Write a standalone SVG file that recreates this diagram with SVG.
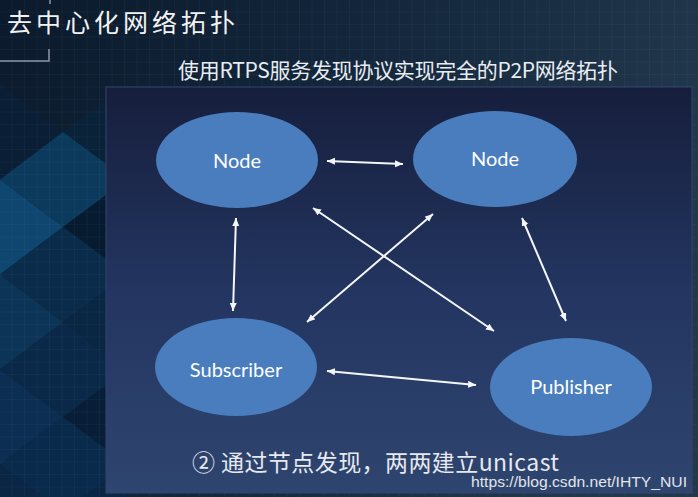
<svg xmlns="http://www.w3.org/2000/svg" width="698" height="497" viewBox="0 0 698 497">
  <defs>
    <linearGradient id="bg" x1="0" y1="0" x2="1" y2="0.3">
      <stop offset="0" stop-color="#0b1a2c"/>
      <stop offset="0.5" stop-color="#13263b"/>
      <stop offset="1" stop-color="#22384c"/>
    </linearGradient>
    <linearGradient id="panel" x1="0" y1="0" x2="0" y2="1">
      <stop offset="0" stop-color="#161e3c"/>
      <stop offset="0.5" stop-color="#233560"/>
      <stop offset="1" stop-color="#2e4570"/>
    </linearGradient>
    <pattern id="grid" width="12.5" height="12.5" patternUnits="userSpaceOnUse">
      <path d="M12.5 0V12.5M0 12.5H12.5" fill="none" stroke="#7aa6d0" stroke-width="0.8" opacity="0.13"/>
    </pattern>
    <marker id="ah" markerUnits="userSpaceOnUse" markerWidth="9" markerHeight="8" refX="8" refY="3.5" orient="auto-start-reverse">
      <path d="M0,0 L8,3.5 L0,7 z" fill="#f4f6fa"/>
    </marker>
    <style>
      .node ellipse { fill: #4a7dbd; }
      .node text { fill: #ffffff; font-family: Lato, "Open Sans", "Noto Sans", sans-serif; font-size: 20px; text-anchor: middle; }
      .conn line { stroke: #f4f6fa; stroke-width: 2; marker-start: url(#ah); marker-end: url(#ah); }
      .cjk { font-family: "Noto Sans CJK SC", "Noto Sans", sans-serif; }
    </style>
  </defs>

  <!-- background -->
  <rect x="0" y="0" width="698" height="497" fill="url(#bg)"/>
  <g id="diamonds">
    <polygon points="0,84.5 63,132 0,179.5" fill="#0a1f35"/>
    <polygon points="127,84.5 63,132 127,179.5" fill="#0a2238"/>
    <polygon points="63,132 0,179.5 63,227 127,179.5" fill="#0b3a5d"/>
    <polygon points="0,179.5 63,227 0,274.5" fill="#0e4670"/>
    <polygon points="127,179.5 63,227 127,274.5" fill="#071b30"/>
    <polygon points="63,227 0,274.5 63,322 127,274.5" fill="#0a2c4a"/>
    <polygon points="0,274.5 63,322 0,369.5" fill="#0b3456"/>
    <polygon points="127,274.5 63,322 127,369.5" fill="#092642"/>
    <polygon points="63,322 0,369.5 63,417 127,369.5" fill="#0a2848"/>
    <polygon points="0,369.5 63,417 0,464.5" fill="#0b2e52"/>
    <polygon points="127,369.5 63,417 127,464.5" fill="#081e38"/>
    <polygon points="63,417 0,464.5 63,512 127,464.5" fill="#0a2a4c"/>
    <polygon points="0,464.5 63,512 0,560" fill="#0a2644"/>
    <polygon points="127,464.5 63,512 127,560" fill="#0a2644"/>
  </g>
  <rect x="0" y="0" width="698" height="497" fill="url(#grid)"/>

  <!-- title -->
  <text class="cjk" x="7" y="32" font-size="25" fill="#f2f2f2" textLength="228" lengthAdjust="spacing">去中心化网络拓扑</text>
  <path d="M0 61H49V49M50 0V4" fill="none" stroke="#8d98a8" stroke-width="1.5"/>
  <text class="cjk" x="178" y="78" font-size="21" fill="#e9edf2" textLength="440" lengthAdjust="spacing">使用RTPS服务发现协议实现完全的P2P网络拓扑</text>

  <!-- panel -->
  <rect x="106" y="87" width="586" height="406" fill="url(#panel)" stroke="#34446f" stroke-width="1"/>

  <!-- connectors -->
  <g id="connectors" class="conn">
    <line x1="327" y1="161" x2="403" y2="164"/>
    <line x1="236" y1="218" x2="233" y2="311"/>
    <line x1="313" y1="208" x2="494" y2="331"/>
    <line x1="307" y1="322" x2="433" y2="214"/>
    <line x1="522" y1="218" x2="566" y2="321"/>
    <line x1="327" y1="371" x2="476" y2="385"/>
  </g>

  <!-- nodes -->
  <g id="node-a" class="node">
    <ellipse cx="237" cy="160" rx="81" ry="48"/>
    <text x="237" y="168">Node</text>
  </g>
  <g id="node-b" class="node">
    <ellipse cx="495" cy="159" rx="82" ry="48"/>
    <text x="495" y="166">Node</text>
  </g>
  <g id="subscriber" class="node">
    <ellipse cx="236" cy="367" rx="81" ry="49"/>
    <text x="236" y="377">Subscriber</text>
  </g>
  <g id="publisher" class="node">
    <ellipse cx="571" cy="387" rx="81" ry="49"/>
    <text x="571" y="394">Publisher</text>
  </g>

  <!-- caption -->
  <text class="cjk" x="192" y="471" font-size="23" fill="#e6e9ee" textLength="367" lengthAdjust="spacing">② 通过节点发现，两两建立unicast</text>
  <text x="471" y="487" font-family="'Liberation Sans', Arial, sans-serif" font-size="14.5" fill="#e2e4e8" textLength="216" lengthAdjust="spacingAndGlyphs">https://blog.csdn.net/IHTY_NUI</text>
</svg>
